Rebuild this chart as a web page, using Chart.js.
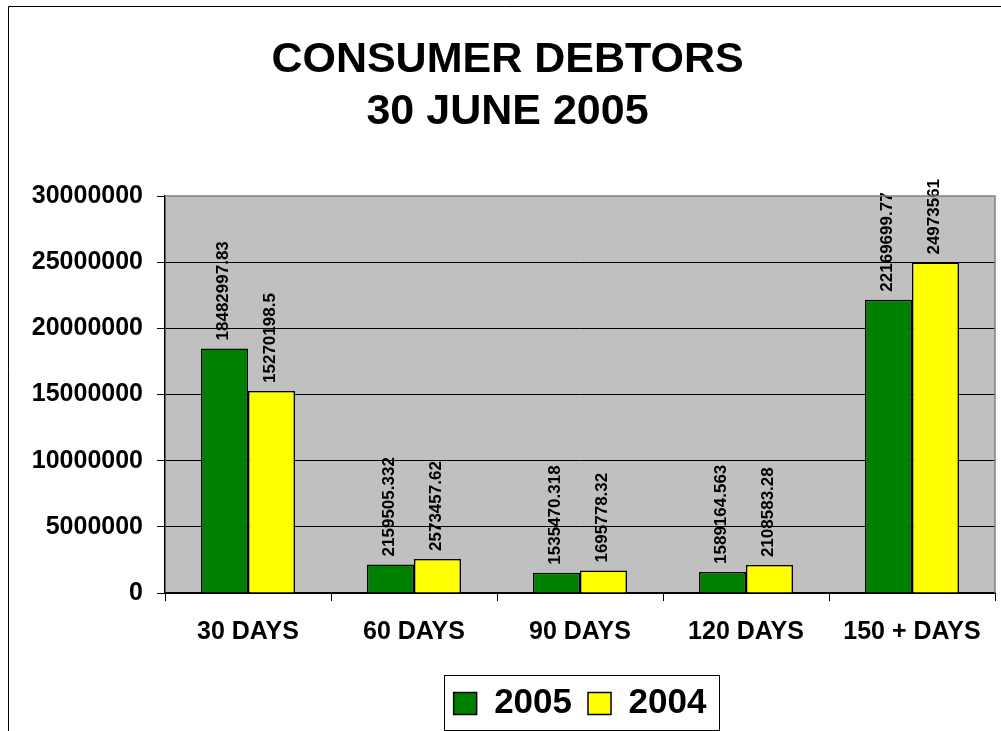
<!DOCTYPE html>
<html>
<head>
<meta charset="utf-8">
<script src="https://cdn.jsdelivr.net/npm/chart.js@4"></script>
<style>
  html, body { margin: 0; padding: 0; background: #fff; }
  #wrap { width: 1001px; height: 731px; position: relative; }
</style>
</head>
<body>
<div id="wrap"><canvas id="debtChart" width="1001" height="731"></canvas></div>
<script>
const categories = ['30 DAYS', '60 DAYS', '90 DAYS', '120 DAYS', '150 + DAYS'];
const values2005 = [18482997.83, 2159505.332, 1535470.318, 1589164.563, 22169699.77];
const values2004 = [15270198.5, 2573457.62, 1695778.32, 2108583.28, 24973561];
const titleLines = ['CONSUMER DEBTORS', '30 JUNE 2005'];

const FONT = '"Liberation Sans", Arial, sans-serif';

// grey plot area + outer frame
const backdrop = {
  id: 'backdrop',
  beforeDraw(chart) {
    const { ctx, chartArea: a } = chart;
    ctx.save();
    ctx.strokeStyle = '#000';
    ctx.lineWidth = 1;
    ctx.beginPath();
    ctx.moveTo(8.5, 740);
    ctx.lineTo(8.5, 6.5);
    ctx.lineTo(1010, 6.5);
    ctx.stroke();
    ctx.fillStyle = '#C0C0C0';
    ctx.fillRect(a.left, a.top, a.right - a.left, a.bottom - a.top);
    ctx.restore();
  },
  afterDraw(chart) {
    const { ctx, chartArea: a } = chart;
    ctx.save();
    ctx.strokeStyle = '#808080';
    ctx.lineWidth = 1.5;
    ctx.beginPath();
    ctx.moveTo(a.left, a.top);
    ctx.lineTo(a.right, a.top);
    ctx.lineTo(a.right, a.bottom);
    ctx.stroke();
    // legend frame
    const boxes = chart.legend.legendHitBoxes;
    if (boxes && boxes.length) {
      const first = boxes[0], last = boxes[boxes.length - 1];
      const cy = first.top + first.height / 2;
      ctx.strokeStyle = '#000';
      ctx.lineWidth = 1;
      ctx.strokeRect(Math.round(first.left - 10) + 0.5, Math.round(cy - 29) + 0.5,
        Math.round(last.left + last.width - first.left + 22), 55);
    }
    ctx.restore();
  }
};

// rotated value labels above bars
const valueLabels = {
  id: 'valueLabels',
  afterDatasetsDraw(chart) {
    const { ctx } = chart;
    ctx.save();
    ctx.font = 'bold 17px ' + FONT;
    ctx.fillStyle = '#000';
    ctx.textAlign = 'left';
    ctx.textBaseline = 'middle';
    chart.data.datasets.forEach((ds, i) => {
      chart.getDatasetMeta(i).data.forEach((bar, j) => {
        ctx.save();
        ctx.translate(bar.x - 1, bar.y - 8);
        ctx.rotate(-Math.PI / 2);
        ctx.fillText(String(ds.data[j]), 0, 0);
        ctx.restore();
      });
    });
    ctx.restore();
  }
};

new Chart(document.getElementById('debtChart'), {
  type: 'bar',
  data: {
    labels: categories,
    datasets: [
      { label: '2005', data: values2005, backgroundColor: '#008000', borderColor: '#000', borderWidth: 1.5 },
      { label: '2004', data: values2004, backgroundColor: '#FFFF00', borderColor: '#000', borderWidth: 1.5 }
    ]
  },
  options: {
    responsive: false,
    animation: false,
    layout: { padding: { left: 20, right: 6, top: 0, bottom: 0 } },
    datasets: { bar: { categoryPercentage: 0.566, barPercentage: 1 } },
    scales: {
      x: {
        afterFit(scale) { scale.height += 7; },
        grid: { offset: true, drawOnChartArea: false, tickLength: 8, color: '#000', tickColor: '#000' },
        border: { color: '#000', width: 1.5 },
        ticks: { color: '#000', font: { family: FONT, size: 25, weight: 'bold' }, padding: 16, maxRotation: 0 }
      },
      y: {
        min: 0,
        max: 30000000,
        afterFit(scale) { scale.width = 145; },
        grid: {
          color: (c) => c.tick && c.tick.value === 30000000 ? 'rgba(0,0,0,0)' : '#000',
          tickColor: '#000',
          tickLength: 8,
          lineWidth: 1
        },
        border: { color: '#000', width: 1.5 },
        ticks: {
          stepSize: 5000000,
          color: '#000',
          font: { family: FONT, size: 25, weight: 'bold' },
          padding: 14,
          callback: (v) => String(v)
        }
      }
    },
    plugins: {
      title: {
        display: true,
        text: titleLines,
        color: '#000',
        font: { family: FONT, size: 43, weight: 'bold', lineHeight: 1.21 },
        padding: { top: 34, bottom: 58 }
      },
      legend: {
        position: 'bottom',
        fullSize: false,
        labels: {
          color: '#000',
          font: { family: FONT, size: 35, weight: 'bold' },
          boxWidth: 23,
          boxHeight: 22,
          padding: 16
        }
      },
      tooltip: { enabled: false }
    }
  },
  plugins: [backdrop, valueLabels]
});
</script>
</body>
</html>
